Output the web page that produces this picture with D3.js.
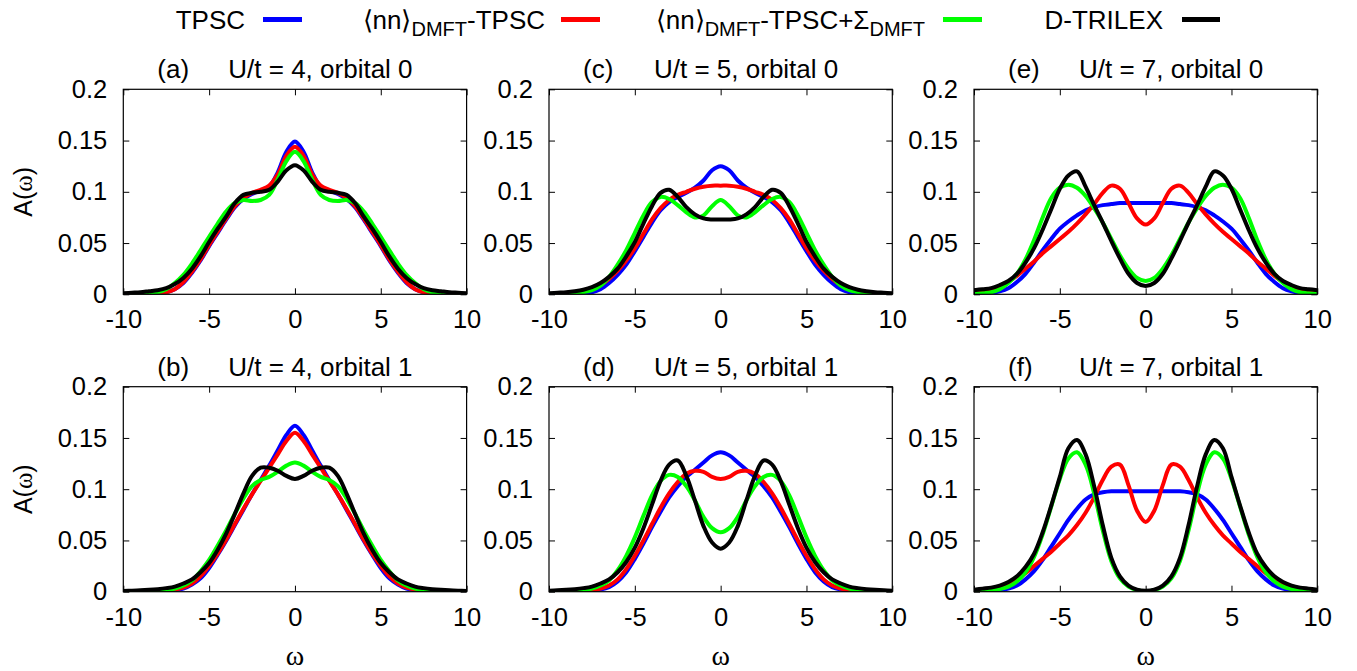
<!DOCTYPE html>
<html>
<head>
<meta charset="utf-8">
<script src="https://cdn.jsdelivr.net/npm/d3@7"></script>
<style>
  body { margin: 0; background: #fff; }
  svg { display: block; }
</style>
</head>
<body>
<svg id="chart" width="1357" height="671"></svg>
<script>
// Frequency grid shared by every spectral function
const omega = [-10,-9.5,-9,-8.5,-8,-7.5,-7,-6.5,-6,-5.5,-5,-4.5,-4,-3.5,-3,-2.5,-2,-1.5,-1,-0.5,0,
               0.5,1,1.5,2,2.5,3,3.5,4,4.5,5,5.5,6,6.5,7,7.5,8,8.5,9,9.5,10];

// (a) U/t = 4, orbital 0
const tpscU4o0 = [0.0001,0.0001,0.0002,0.0005,0.001,0.002,0.005,0.011,0.021,0.033,0.047,0.060,0.073,0.085,0.093,0.098,0.101,0.105,0.119,0.139,0.149,0.139,0.119,0.105,0.101,0.098,0.093,0.085,0.073,0.060,0.047,0.033,0.021,0.011,0.005,0.002,0.001,0.0005,0.0002,0.0001,0.0001];
const nnU4o0 = [0.0001,0.0001,0.0002,0.0005,0.001,0.002,0.005,0.012,0.022,0.034,0.048,0.061,0.074,0.086,0.094,0.099,0.102,0.106,0.117,0.135,0.144,0.135,0.117,0.106,0.102,0.099,0.094,0.086,0.074,0.061,0.048,0.034,0.022,0.012,0.005,0.002,0.001,0.0005,0.0002,0.0001,0.0001];
const nnSigU4o0 = [0.0001,0.0002,0.0005,0.001,0.002,0.005,0.011,0.019,0.030,0.043,0.056,0.069,0.081,0.089,0.092,0.091,0.092,0.097,0.112,0.130,0.139,0.130,0.112,0.097,0.092,0.091,0.092,0.089,0.081,0.069,0.056,0.043,0.030,0.019,0.011,0.005,0.002,0.001,0.0005,0.0002,0.0001];
const dtrilexU4o0 = [0.001,0.0015,0.002,0.003,0.004,0.006,0.010,0.016,0.025,0.037,0.051,0.064,0.076,0.089,0.097,0.099,0.100,0.102,0.110,0.121,0.126,0.121,0.110,0.102,0.100,0.099,0.097,0.089,0.076,0.064,0.051,0.037,0.025,0.016,0.010,0.006,0.004,0.003,0.002,0.0015,0.001];

// (c) U/t = 5, orbital 0
const tpscU5o0 = [0.0001,0.0001,0.0002,0.0005,0.001,0.002,0.005,0.011,0.019,0.029,0.042,0.056,0.070,0.082,0.090,0.095,0.099,0.104,0.111,0.121,0.125,0.121,0.111,0.104,0.099,0.095,0.090,0.082,0.070,0.056,0.042,0.029,0.019,0.011,0.005,0.002,0.001,0.0005,0.0002,0.0001,0.0001];
const nnU5o0 = [0.0001,0.0003,0.0006,0.0013,0.0026,0.005,0.009,0.015,0.023,0.033,0.045,0.059,0.073,0.084,0.092,0.097,0.100,0.103,0.105,0.106,0.106,0.106,0.105,0.103,0.100,0.097,0.092,0.084,0.073,0.059,0.045,0.033,0.023,0.015,0.009,0.005,0.0026,0.0013,0.0006,0.0003,0.0001];
const nnSigU5o0 = [0.0001,0.0002,0.0005,0.001,0.002,0.004,0.0085,0.017,0.029,0.043,0.060,0.077,0.090,0.095,0.093,0.087,0.080,0.075,0.077,0.086,0.092,0.086,0.077,0.075,0.080,0.087,0.093,0.095,0.090,0.077,0.060,0.043,0.029,0.017,0.0085,0.004,0.002,0.001,0.0005,0.0002,0.0001];
const dtrilexU5o0 = [0.001,0.0015,0.002,0.003,0.0045,0.007,0.011,0.017,0.025,0.037,0.051,0.069,0.086,0.099,0.102,0.095,0.085,0.078,0.074,0.073,0.073,0.073,0.074,0.078,0.085,0.095,0.102,0.099,0.086,0.069,0.051,0.037,0.025,0.017,0.011,0.007,0.0045,0.003,0.002,0.0015,0.001];

// (e) U/t = 7, orbital 0
const tpscU7o0 = [0.0002,0.0006,0.0015,0.003,0.006,0.012,0.020,0.031,0.043,0.054,0.064,0.071,0.077,0.082,0.085,0.087,0.088,0.089,0.089,0.089,0.089,0.089,0.089,0.089,0.088,0.087,0.085,0.082,0.077,0.071,0.064,0.054,0.043,0.031,0.020,0.012,0.006,0.003,0.0015,0.0006,0.0002];
const nnU7o0 = [0.001,0.002,0.004,0.007,0.012,0.018,0.025,0.032,0.040,0.047,0.054,0.061,0.069,0.078,0.088,0.099,0.106,0.103,0.089,0.074,0.068,0.074,0.089,0.103,0.106,0.099,0.088,0.078,0.069,0.061,0.054,0.047,0.040,0.032,0.025,0.018,0.012,0.007,0.004,0.002,0.001];
const nnSigU7o0 = [0.0005,0.001,0.002,0.005,0.011,0.020,0.034,0.053,0.075,0.094,0.104,0.107,0.104,0.096,0.084,0.070,0.054,0.038,0.025,0.016,0.013,0.016,0.025,0.038,0.054,0.070,0.084,0.096,0.104,0.107,0.104,0.094,0.075,0.053,0.034,0.020,0.011,0.005,0.002,0.001,0.0005];
const dtrilexU7o0 = [0.004,0.005,0.006,0.009,0.013,0.020,0.031,0.045,0.063,0.083,0.103,0.116,0.120,0.105,0.087,0.070,0.052,0.035,0.020,0.011,0.008,0.011,0.020,0.035,0.052,0.070,0.087,0.105,0.120,0.116,0.103,0.083,0.063,0.045,0.031,0.020,0.013,0.009,0.006,0.005,0.004];

// (b) U/t = 4, orbital 1
const tpscU4o1 = [0,0,0.0001,0.0001,0.0003,0.0007,0.0015,0.003,0.007,0.013,0.023,0.036,0.050,0.065,0.080,0.095,0.109,0.123,0.138,0.153,0.162,0.153,0.138,0.123,0.109,0.095,0.080,0.065,0.050,0.036,0.023,0.013,0.007,0.003,0.0015,0.0007,0.0003,0.0001,0.0001,0,0];
const nnU4o1 = [0,0,0.0001,0.0002,0.0005,0.001,0.002,0.004,0.008,0.015,0.025,0.037,0.051,0.066,0.081,0.095,0.108,0.121,0.134,0.147,0.155,0.147,0.134,0.121,0.108,0.095,0.081,0.066,0.051,0.037,0.025,0.015,0.008,0.004,0.002,0.001,0.0005,0.0002,0.0001,0,0];
const nnSigU4o1 = [0,0,0.0001,0.0003,0.0007,0.0015,0.003,0.006,0.011,0.020,0.031,0.045,0.060,0.076,0.091,0.103,0.109,0.112,0.117,0.123,0.126,0.123,0.117,0.112,0.109,0.103,0.091,0.076,0.060,0.045,0.031,0.020,0.011,0.006,0.003,0.0015,0.0007,0.0003,0.0001,0,0];
const dtrilexU4o1 = [0.0008,0.001,0.0013,0.0018,0.0025,0.0035,0.005,0.008,0.012,0.019,0.028,0.041,0.057,0.076,0.096,0.113,0.121,0.121,0.118,0.113,0.110,0.113,0.118,0.121,0.121,0.113,0.096,0.076,0.057,0.041,0.028,0.019,0.012,0.008,0.005,0.0035,0.0025,0.0018,0.0013,0.001,0.0008];

// (d) U/t = 5, orbital 1
const tpscU5o1 = [0,0,0,0.0001,0.0003,0.0008,0.002,0.0045,0.010,0.019,0.032,0.047,0.063,0.078,0.092,0.103,0.112,0.119,0.126,0.133,0.136,0.133,0.126,0.119,0.112,0.103,0.092,0.078,0.063,0.047,0.032,0.019,0.010,0.0045,0.002,0.0008,0.0003,0.0001,0,0,0];
const nnU5o1 = [0,0,0.0001,0.0002,0.0005,0.0012,0.003,0.006,0.012,0.022,0.035,0.050,0.066,0.082,0.096,0.107,0.115,0.118,0.117,0.112,0.110,0.112,0.117,0.118,0.115,0.107,0.096,0.082,0.066,0.050,0.035,0.022,0.012,0.006,0.003,0.0012,0.0005,0.0002,0.0001,0,0];
const nnSigU5o1 = [0,0.0001,0.0003,0.0006,0.0013,0.003,0.006,0.011,0.021,0.035,0.053,0.074,0.094,0.108,0.114,0.112,0.103,0.089,0.073,0.062,0.058,0.062,0.073,0.089,0.103,0.112,0.114,0.108,0.094,0.074,0.053,0.035,0.021,0.011,0.006,0.003,0.0013,0.0006,0.0003,0.0001,0];
const dtrilexU5o1 = [0.001,0.0013,0.0018,0.0025,0.0035,0.005,0.008,0.012,0.019,0.029,0.043,0.062,0.085,0.108,0.124,0.128,0.113,0.089,0.064,0.048,0.042,0.048,0.064,0.089,0.113,0.128,0.124,0.108,0.085,0.062,0.043,0.029,0.019,0.012,0.008,0.005,0.0035,0.0025,0.0018,0.0013,0.001];

// (f) U/t = 7, orbital 1
const tpscU7o1 = [0.0001,0.0003,0.0007,0.0015,0.003,0.006,0.012,0.020,0.031,0.044,0.057,0.070,0.081,0.090,0.095,0.097,0.098,0.098,0.098,0.098,0.098,0.098,0.098,0.098,0.098,0.097,0.095,0.090,0.081,0.070,0.057,0.044,0.031,0.020,0.012,0.006,0.003,0.0015,0.0007,0.0003,0.0001];
const nnU7o1 = [0.0005,0.001,0.002,0.004,0.007,0.012,0.018,0.025,0.032,0.039,0.047,0.055,0.065,0.077,0.092,0.109,0.122,0.124,0.104,0.079,0.068,0.079,0.104,0.124,0.122,0.109,0.092,0.077,0.065,0.055,0.047,0.039,0.032,0.025,0.018,0.012,0.007,0.004,0.002,0.001,0.0005];
const nnSigU7o1 = [0.0003,0.0006,0.0012,0.0025,0.005,0.010,0.019,0.034,0.056,0.083,0.110,0.130,0.136,0.124,0.096,0.060,0.030,0.013,0.005,0.0015,0.0005,0.0015,0.005,0.013,0.030,0.060,0.096,0.124,0.136,0.130,0.110,0.083,0.056,0.034,0.019,0.010,0.005,0.0025,0.0012,0.0006,0.0003];
const dtrilexU7o1 = [0.002,0.003,0.004,0.006,0.0095,0.015,0.024,0.037,0.058,0.084,0.112,0.140,0.148,0.134,0.103,0.065,0.033,0.015,0.006,0.002,0.001,0.002,0.006,0.015,0.033,0.065,0.103,0.134,0.148,0.140,0.112,0.084,0.058,0.037,0.024,0.015,0.0095,0.006,0.004,0.003,0.002];

// Axis ticks
const xTicks = [-10, -5, 0, 5, 10];
const yTicks = [0, 0.05, 0.1, 0.15, 0.2];
const yTickLabels = ["0", "0.05", "0.1", "0.15", "0.2"];

// Panel captions, laid out row by row (top row orbital 0, bottom row orbital 1)
const panelLetters = ["(a)", "(c)", "(e)", "(b)", "(d)", "(f)"];
const panelTitles = ["U/t = 4, orbital 0", "U/t = 5, orbital 0", "U/t = 7, orbital 0",
                     "U/t = 4, orbital 1", "U/t = 5, orbital 1", "U/t = 7, orbital 1"];
const panelSeries = [
  [tpscU4o0, nnU4o0, nnSigU4o0, dtrilexU4o0],
  [tpscU5o0, nnU5o0, nnSigU5o0, dtrilexU5o0],
  [tpscU7o0, nnU7o0, nnSigU7o0, dtrilexU7o0],
  [tpscU4o1, nnU4o1, nnSigU4o1, dtrilexU4o1],
  [tpscU5o1, nnU5o1, nnSigU5o1, dtrilexU5o1],
  [tpscU7o1, nnU7o1, nnSigU7o1, dtrilexU7o1]
];

// Methods (legend order == drawing order)
const methodColors = ["#0000ff", "#ff0000", "#00ff00", "#000000"];

// ---- layout ----
const W = 1357, H = 671;
const colLeft = [123.3, 549, 974];
const rowTop = [89.3, 386.7];
const panelW = 343.3, panelH = 205;
const FONT = "'Liberation Sans', Arial, Helvetica, sans-serif";
const SERIF = "'Liberation Serif', 'Times New Roman', serif";

const svg = d3.select("#chart").attr("viewBox", `0 0 ${W} ${H}`);
svg.append("rect").attr("width", W).attr("height", H).attr("fill", "#fff");

const x = d3.scaleLinear().domain([-10, 10]).range([0, panelW]);
const y = d3.scaleLinear().domain([0, 0.2]).range([panelH, 0]);

const line = d3.line()
  .x((d, i) => x(omega[i]))
  .y(d => y(d))
  .curve(d3.curveCatmullRom.alpha(0.5));

const defs = svg.append("defs");
defs.append("clipPath").attr("id", "plotClip")
  .append("rect").attr("x", 0).attr("y", 0).attr("width", panelW).attr("height", panelH);

function styleAxis(g) {
  g.select(".domain").remove();
  g.selectAll(".tick line").attr("stroke", "#000").attr("stroke-width", 1);
  g.selectAll(".tick text")
    .attr("fill", "#000")
    .style("font-family", FONT)
    .style("font-size", "25.5px");
}

panelSeries.forEach((series, i) => {
  const col = i % 3, row = Math.floor(i / 3);
  const g = svg.append("g")
    .attr("transform", `translate(${colLeft[col]},${rowTop[row]})`);

  // spectral functions
  const plot = g.append("g").attr("clip-path", "url(#plotClip)");
  series.forEach((vals, k) => {
    plot.append("path")
      .datum(vals)
      .attr("d", line)
      .attr("fill", "none")
      .attr("stroke", methodColors[k])
      .attr("stroke-width", 4)
      .attr("stroke-linejoin", "round")
      .attr("stroke-linecap", "round");
  });

  // axes with inward ticks on all four sides
  g.append("g").attr("transform", `translate(0,${panelH})`)
    .call(d3.axisBottom(x).tickValues(xTicks).tickSize(-6).tickPadding(16)
      .tickFormat(d => String(d)))
    .call(styleAxis);
  g.append("g")
    .call(d3.axisTop(x).tickValues(xTicks).tickSize(-6).tickFormat(""))
    .call(styleAxis);
  g.append("g")
    .call(d3.axisLeft(y).tickValues(yTicks).tickSize(-6).tickPadding(16)
      .tickFormat((d, j) => yTickLabels[j]))
    .call(styleAxis);
  g.append("g").attr("transform", `translate(${panelW},0)`)
    .call(d3.axisRight(y).tickValues(yTicks).tickSize(-6).tickFormat(""))
    .call(styleAxis);

  g.append("rect")
    .attr("width", panelW).attr("height", panelH)
    .attr("fill", "none").attr("stroke", "#000").attr("stroke-width", 1.2);

  // caption
  g.append("text").attr("x", 34).attr("y", -11)
    .style("font-family", FONT).style("font-size", "26px")
    .text(panelLetters[i]);
  g.append("text").attr("x", 105).attr("y", -11)
    .style("font-family", FONT).style("font-size", "26px")
    .text(panelTitles[i]);

  // axis titles
  if (col === 0) {
    const t = g.append("text")
      .attr("transform", `translate(${23 - colLeft[0]},${panelH / 2}) rotate(-90)`)
      .attr("text-anchor", "middle").attr("dy", "0.35em")
      .style("font-family", FONT).style("font-size", "25px");
    t.append("tspan").text("A(");
    t.append("tspan").style("font-family", SERIF).text("ω");
    t.append("tspan").text(")");
  }
  if (row === 1) {
    g.append("text")
      .attr("x", panelW / 2).attr("y", 665 - rowTop[1])
      .attr("text-anchor", "middle")
      .style("font-family", SERIF).style("font-size", "28px")
      .text("ω");
  }
});

// ---- legend ----
const legendTextEnd = [245, 545, 925, 1163];
const legendLineX = [[263, 302], [561, 600], [943, 982], [1182, 1220]];
const legendBaseline = 29, legendLineY = 19.5;
const legend = svg.append("g")
  .style("font-family", FONT).style("font-size", "26px");

// label pieces: [text, isSubscript]
const legendParts = [
  [["TPSC", false]],
  [["⟨nn⟩", false], ["DMFT", true], ["-TPSC", false]],
  [["⟨nn⟩", false], ["DMFT", true], ["-TPSC+Σ", false], ["DMFT", true]],
  [["D-TRILEX", false]]
];
legendParts.forEach((parts, k) => {
  const t = legend.append("text")
    .attr("x", legendTextEnd[k]).attr("y", legendBaseline)
    .attr("text-anchor", "end");
  let sub = false;
  parts.forEach(([s, isSub]) => {
    const ts = t.append("tspan").text(s);
    if (isSub && !sub) { ts.attr("dy", 7); }
    if (!isSub && sub) { ts.attr("dy", -7); }
    if (isSub) ts.style("font-size", "20px");
    sub = isSub;
  });
  legend.append("line")
    .attr("x1", legendLineX[k][0]).attr("x2", legendLineX[k][1])
    .attr("y1", legendLineY).attr("y2", legendLineY)
    .attr("stroke", methodColors[k]).attr("stroke-width", 5);
});
</script>
</body>
</html>
